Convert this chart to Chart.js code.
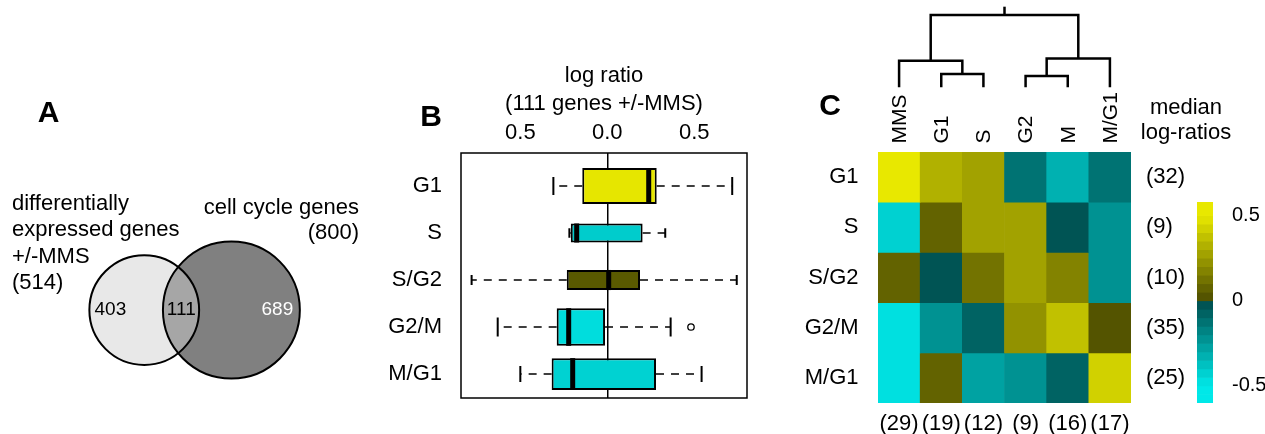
<!DOCTYPE html>
<html>
<head>
<meta charset="utf-8">
<title>MMS and cell cycle genes</title>
<script src="https://cdn.jsdelivr.net/npm/chart.js@4.4.0/dist/chart.umd.min.js"></script>
<style>
  body { margin: 0; background: #fff; width: 1265px; height: 434px; position: relative; overflow: hidden; }
  .panel { position: absolute; }
</style>
</head>
<body>
<div class="panel" style="left:0;top:0;width:380px;height:434px"><canvas id="venn"></canvas></div>
<div class="panel" style="left:380px;top:0;width:420px;height:434px"><canvas id="boxes"></canvas></div>
<div class="panel" style="left:800px;top:0;width:400px;height:434px"><canvas id="heat"></canvas></div>
<div class="panel" style="left:878px;top:0;width:253px;height:100px"><canvas id="dendro"></canvas></div>
<div class="panel" style="left:1140px;top:0;width:125px;height:434px"><canvas id="key"></canvas></div>
<script>
// ---- data ----
var vennSetLines = [['differentially', 'expressed genes', '+/-MMS'], ['cell cycle genes']];
var vennTotals = [514, 800];
var vennOnly = [403, 689];
var vennBoth = 111;

var phases = ['G1', 'S', 'S/G2', 'G2/M', 'M/G1'];
var phaseCounts = [32, 9, 10, 35, 25];

var boxLow = [-0.31, -0.218, -0.78, -0.63, -0.50];
var boxQ1 = [-0.144, -0.21, -0.233, -0.291, -0.32];
var boxMedian = [0.238, -0.176, 0.008, -0.222, -0.199];
var boxQ3 = [0.284, 0.203, 0.188, -0.013, 0.28];
var boxHigh = [0.718, 0.333, 0.744, 0.364, 0.542];
var boxOutliers = [[], [], [], [0.481], []];
var boxTicks = [-0.5, 0, 0.5];
var boxTickLabels = ['0.5', '0.0', '0.5'];

var heatCols = ['MMS', 'G1', 'S', 'G2', 'M', 'M/G1'];
var heatColCounts = [29, 19, 12, 9, 16, 17];
var heatValues = [
  [0.55, 0.32, 0.25, -0.14, -0.32, -0.12],
  [-0.41, 0.08, 0.29, 0.25, -0.02, -0.24],
  [0.05, -0.03, 0.11, 0.27, 0.16, -0.22],
  [-0.48, -0.21, -0.06, 0.21, 0.37, 0.03],
  [-0.45, 0.09, -0.27, -0.22, -0.05, 0.40]
];

// hclust style merges (negative = leaf column, positive = earlier merge)
var dendroMerge = [[-2, -3], [-4, -5], [-1, 1], [2, -6], [3, 4]];
var dendroHeight = [0.184, 0.156, 0.368, 0.40, 1.0];
var dendroStemTop = 1.115;

var keyBreaks = [-0.65, -0.6, -0.55, -0.5, -0.45, -0.4, -0.35, -0.3, -0.25, -0.2, -0.15, -0.1, -0.05,
  0, 0.05, 0.1, 0.15, 0.2, 0.25, 0.3, 0.35, 0.4, 0.45, 0.5, 0.55, 0.6];
var keyTicks = [-0.5, 0, 0.5];

// ---- look ----
var FONT = '"Liberation Sans", Arial, Helvetica, sans-serif';
Chart.defaults.font.family = FONT;
Chart.defaults.color = '#000';
Chart.defaults.animation = false;
Chart.defaults.events = [];
Chart.defaults.maintainAspectRatio = false;
Chart.defaults.plugins.legend.display = false;
Chart.defaults.plugins.tooltip.enabled = false;

function fixSize(px) {
  return function (s) {
    if (s.isHorizontal()) s.height = px; else s.width = px;
  };
}

// stepped cyan - black - yellow map
function heatColor(v) {
  var step = 0.05;
  var mid = (Math.floor(Math.abs(v) / step) + 0.5) * step;
  var t = Math.min(mid / 0.5, 1);
  var c = Math.round(76 + 156 * t);
  return v >= 0 ? 'rgb(' + c + ',' + c + ',0)' : 'rgb(0,' + c + ',' + c + ')';
}

function letter(ctx, txt, x, y) {
  ctx.save();
  ctx.font = 'bold 30px ' + FONT;
  ctx.fillStyle = '#000';
  ctx.textAlign = 'center';
  ctx.textBaseline = 'middle';
  ctx.fillText(txt, x, y);
  ctx.restore();
}

// ---- A: venn ----
var vennGap = 36; // centre distance, in sqrt(genes) units
var circles = vennTotals.map(function (n, i) {
  return { x: i * vennGap, y: 0, size: Math.sqrt(n) };
});
var vennCountX = [-14, 15.3, 55];

function circleRadius(c) {
  if (!c.raw) return 0;
  var s = c.chart.scales.x;
  return s.getPixelForValue(c.raw.x + c.raw.size) - s.getPixelForValue(c.raw.x);
}

var vennText = {
  id: 'vennText',
  afterDatasetsDraw: function (chart) {
    var ctx = chart.ctx, x = chart.scales.x, y = chart.scales.y;
    ctx.save();
    ctx.font = '19px ' + FONT;
    ctx.textAlign = 'center';
    ctx.textBaseline = 'middle';
    [vennOnly[0], vennBoth, vennOnly[1]].forEach(function (n, i) {
      ctx.fillStyle = i == 2 ? '#fff' : '#000';
      ctx.fillText(String(n), x.getPixelForValue(vennCountX[i]), y.getPixelForValue(0));
    });
    ctx.fillStyle = '#000';
    ctx.font = '22px ' + FONT;
    ctx.textAlign = 'left';
    var left = vennSetLines[0].concat(['(' + vennTotals[0] + ')']);
    left.forEach(function (t, i) { ctx.fillText(t, 12, 204 + i * 26.3); });
    ctx.textAlign = 'right';
    var right = vennSetLines[1].concat(['(' + vennTotals[1] + ')']);
    right.forEach(function (t, i) { ctx.fillText(t, 359, 208 + i * 25); });
    ctx.restore();
    letter(ctx, 'A', 48.5, 114);
  }
};

new Chart(document.getElementById('venn'), {
  type: 'scatter',
  data: {
    datasets: [
      {
        label: 'fill', order: 1, data: [circles[1], circles[0]],
        pointRadius: circleRadius,
        pointBackgroundColor: ['#808080', 'rgba(207,207,207,0.48)'],
        pointBorderWidth: 0
      },
      {
        label: 'outline', order: 0, data: circles,
        pointRadius: circleRadius,
        pointBackgroundColor: 'rgba(0,0,0,0)',
        pointBorderColor: '#000',
        pointBorderWidth: 2
      }
    ]
  },
  options: {
    layout: { padding: 0 },
    scales: {
      x: { type: 'linear', display: false, min: -59.6, max: 97.4 },
      y: { type: 'linear', display: false, min: -51.2, max: 128.1 }
    }
  },
  plugins: [vennText]
});

// ---- B: box plot ----
var maxCount = Math.max.apply(null, phaseCounts);

var boxExtras = {
  id: 'boxExtras',
  beforeDatasetsDraw: function (chart) {
    var ctx = chart.ctx, x = chart.scales.x;
    ctx.save();
    ctx.strokeStyle = '#000';
    phases.forEach(function (p, i) {
      var el = chart.getDatasetMeta(i).data[0];
      var yc = el.y, cap = el.height / 4;
      ctx.lineWidth = 1.5;
      ctx.setLineDash([8, 7]);
      ctx.beginPath();
      ctx.moveTo(x.getPixelForValue(boxQ1[i]), yc);
      ctx.lineTo(x.getPixelForValue(boxLow[i]), yc);
      ctx.moveTo(x.getPixelForValue(boxQ3[i]), yc);
      ctx.lineTo(x.getPixelForValue(boxHigh[i]), yc);
      ctx.stroke();
      ctx.setLineDash([]);
      ctx.lineWidth = 2;
      ctx.beginPath();
      [boxLow[i], boxHigh[i]].forEach(function (v) {
        var px = x.getPixelForValue(v);
        ctx.moveTo(px, yc - cap);
        ctx.lineTo(px, yc + cap);
      });
      ctx.stroke();
    });
    ctx.restore();
  },
  afterDatasetsDraw: function (chart) {
    var ctx = chart.ctx, x = chart.scales.x, a = chart.chartArea;
    ctx.save();
    ctx.strokeStyle = '#000';
    phases.forEach(function (p, i) {
      var el = chart.getDatasetMeta(i).data[0];
      var px = x.getPixelForValue(boxMedian[i]);
      ctx.lineWidth = 5;
      ctx.beginPath();
      ctx.moveTo(px, el.y - el.height / 2);
      ctx.lineTo(px, el.y + el.height / 2);
      ctx.stroke();
      ctx.lineWidth = 1.3;
      boxOutliers[i].forEach(function (v) {
        ctx.beginPath();
        ctx.arc(x.getPixelForValue(v), el.y, 3.2, 0, Math.PI * 2);
        ctx.stroke();
      });
    });
    ctx.lineWidth = 1.5;
    ctx.strokeRect(a.left, a.top, a.right - a.left, a.bottom - a.top);
    ctx.restore();
    letter(ctx, 'B', 51, 118);
  }
};

new Chart(document.getElementById('boxes'), {
  type: 'bar',
  data: {
    datasets: phases.map(function (p, i) {
      return {
        label: p,
        data: [{ x: [boxQ1[i], boxQ3[i]], y: i + 1 }],
        backgroundColor: ['#e6e600', '#00cccc', '#5a5a00', '#00dddd', '#00d2d2'][i],
        borderColor: '#000',
        borderWidth: 2,
        borderSkipped: false,
        grouped: false,
        categoryPercentage: 1,
        barPercentage: 0.8 * Math.sqrt(phaseCounts[i] / maxCount)
      };
    })
  },
  options: {
    indexAxis: 'y',
    layout: { padding: { top: 0, left: 0, right: 53, bottom: 36 } },
    scales: {
      x: {
        type: 'linear', position: 'top', min: -0.841, max: 0.803,
        afterBuildTicks: function (s) { s.ticks = boxTicks.map(function (v) { return { value: v }; }); },
        ticks: {
          font: { size: 22 }, color: '#000', padding: 7, maxRotation: 0,
          callback: function (v, i) { return boxTickLabels[i]; }
        },
        grid: {
          drawTicks: false, lineWidth: 1.5,
          color: function (c) { return c.tick && c.tick.value === 0 ? '#000' : 'rgba(0,0,0,0)'; }
        },
        border: { display: false },
        title: {
          display: true, text: ['log ratio', '(111 genes +/-MMS)'], color: '#000',
          font: { size: 22, lineHeight: 1.27 }, padding: { top: 62, bottom: 0 }
        },
        afterFit: fixSize(153)
      },
      y: {
        type: 'linear', reverse: true, offset: false, min: 0.298, max: 5.51,
        afterBuildTicks: function (s) { s.ticks = phases.map(function (p, i) { return { value: i + 1 }; }); },
        ticks: {
          font: { size: 22 }, color: '#000', padding: 11,
          callback: function (v, i) { return phases[i]; }
        },
        grid: { display: false, offset: false },
        border: { display: false },
        afterFit: fixSize(81)
      }
    }
  },
  plugins: [boxExtras]
});

// ---- C: heat map ----
var heatText = {
  id: 'heatText',
  afterDraw: function (chart) {
    var ctx = chart.ctx, x = chart.scales.x, top = chart.chartArea.top;
    ctx.save();
    ctx.font = '21px ' + FONT;
    ctx.fillStyle = '#000';
    ctx.textAlign = 'left';
    ctx.textBaseline = 'middle';
    heatCols.forEach(function (c, j) {
      ctx.save();
      ctx.translate(x.getPixelForValue(j), top - 8.5);
      ctx.rotate(-Math.PI / 2);
      ctx.fillText(c, 0, 1);
      ctx.restore();
    });
    ctx.restore();
    letter(ctx, 'C', 30, 107);
  }
};

new Chart(document.getElementById('heat'), {
  type: 'bar',
  data: {
    labels: heatCols,
    datasets: phases.map(function (p, i) {
      return {
        label: p,
        data: heatCols.map(function () { return [i, i + 1]; }),
        backgroundColor: heatValues[i].map(heatColor),
        borderWidth: 0,
        barPercentage: 1,
        categoryPercentage: 1,
        grouped: false
      };
    })
  },
  options: {
    layout: { padding: 0 },
    scales: {
      x: {
        type: 'category', position: 'top', offset: true,
        ticks: { display: false }, grid: { display: false }, border: { display: false },
        afterFit: fixSize(152)
      },
      x2: {
        type: 'category', position: 'bottom', offset: true,
        labels: heatColCounts.map(function (n) { return '(' + n + ')'; }),
        ticks: { font: { size: 22 }, color: '#000', padding: 0, maxRotation: 0, autoSkip: false },
        grid: { display: false }, border: { display: false },
        afterFit: fixSize(31)
      },
      y: {
        type: 'linear', reverse: true, min: 0, max: 5, position: 'left',
        afterBuildTicks: function (s) { s.ticks = phases.map(function (p, i) { return { value: i + 0.5 }; }); },
        ticks: { font: { size: 22 }, color: '#000', padding: 11.5, callback: function (v, i) { return phases[i]; } },
        grid: { display: false }, border: { display: false },
        afterFit: fixSize(78)
      },
      y2: {
        type: 'linear', reverse: true, min: 0, max: 5, position: 'right',
        afterBuildTicks: function (s) { s.ticks = phases.map(function (p, i) { return { value: i + 0.5 }; }); },
        ticks: { font: { size: 22 }, color: '#000', padding: 7, callback: function (v, i) { return '(' + phaseCounts[i] + ')'; } },
        grid: { display: false }, border: { display: false },
        afterFit: fixSize(69)
      }
    }
  },
  plugins: [heatText]
});

// ---- dendrogram over the heat map columns ----
var nodeX = [], nodeH = [];
function childPos(m) {
  return m < 0 ? { x: -m - 1, h: 0 } : { x: nodeX[m - 1], h: nodeH[m - 1] };
}
var dendroSets = dendroMerge.map(function (pair, k) {
  var a = childPos(pair[0]), b = childPos(pair[1]), h = dendroHeight[k];
  nodeX[k] = (a.x + b.x) / 2;
  nodeH[k] = h;
  return { data: [{ x: a.x, y: a.h }, { x: a.x, y: h }, { x: b.x, y: h }, { x: b.x, y: b.h }] };
});
var rootK = dendroMerge.length - 1;
dendroSets.push({ data: [{ x: nodeX[rootK], y: nodeH[rootK] }, { x: nodeX[rootK], y: dendroStemTop }] });
dendroSets.forEach(function (d) {
  d.showLine = true;
  d.pointRadius = 0;
  d.borderColor = '#000';
  d.borderWidth = 2.5;
  d.borderJoinStyle = 'miter';
  d.borderCapStyle = 'butt';
  d.tension = 0;
  d.clip = false;
});

new Chart(document.getElementById('dendro'), {
  type: 'scatter',
  data: { datasets: dendroSets },
  options: {
    layout: { padding: 0 },
    scales: {
      x: { type: 'linear', display: false, min: -0.5, max: heatCols.length - 0.5 },
      y: { type: 'linear', display: false, min: -0.1757, max: 1.2075 }
    }
  }
});

// ---- colour key ----
var keyText = {
  id: 'keyText',
  afterDraw: function (chart) {
    var ctx = chart.ctx;
    ctx.save();
    ctx.font = '22px ' + FONT;
    ctx.fillStyle = '#000';
    ctx.textAlign = 'center';
    ctx.textBaseline = 'middle';
    ctx.fillText('median', 46, 108);
    ctx.fillText('log-ratios', 46, 133);
    ctx.restore();
  }
};

new Chart(document.getElementById('key'), {
  type: 'bar',
  data: {
    labels: ['key'],
    datasets: [{
      data: keyBreaks.slice(1).map(function (hi, i) { return { x: 'key', y: [keyBreaks[i], hi] }; }),
      backgroundColor: keyBreaks.slice(1).map(function (hi, i) { return heatColor((keyBreaks[i] + hi) / 2); }),
      borderWidth: 0,
      barPercentage: 1,
      categoryPercentage: 1
    }]
  },
  options: {
    layout: { padding: { left: 57, top: 202, bottom: 31, right: 0 } },
    scales: {
      x: { type: 'category', display: false },
      y: {
        type: 'linear', position: 'right', min: -0.6, max: 0.58,
        afterBuildTicks: function (s) { s.ticks = keyTicks.map(function (v) { return { value: v }; }); },
        ticks: { font: { size: 20 }, color: '#000', padding: 11 },
        grid: { display: false }, border: { display: false },
        afterFit: fixSize(52)
      }
    }
  },
  plugins: [keyText]
});
</script>
</body>
</html>
